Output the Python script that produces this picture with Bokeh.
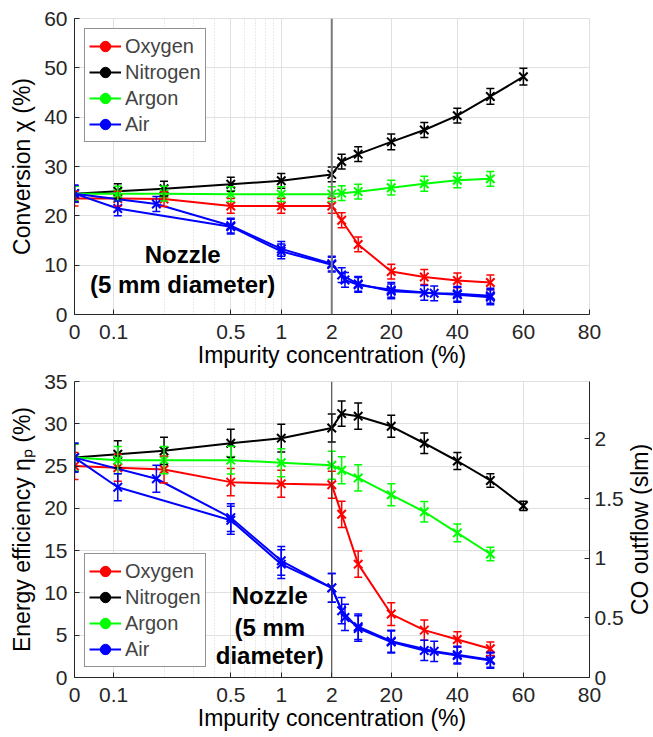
import numpy as np
from bokeh.plotting import figure
from bokeh.models import (Range1d, LinearAxis, FixedTicker, CustomJSTickFormatter,
                          NumeralTickFormatter, Whisker, TeeHead, ColumnDataSource,
                          Span, Label, Legend, LegendItem)
from bokeh.layouts import column, row
from bokeh.embed import file_html
from bokeh.resources import INLINE

# ---------------- data ----------------
x_std = [0, 0.106, 0.2, 0.5, 1, 2, 5, 10, 20, 30, 40, 50]
x_n2 = [0, 0.106, 0.2, 0.5, 1, 2, 5, 10, 20, 30, 40, 50, 60]
x_air1 = [0, 0.106, 0.5, 1, 2, 5, 10, 20, 30, 40, 50]
x_air2 = [0, 0.18, 0.5, 1, 2, 6, 10, 20, 33, 40, 50]

# Conversion (%)
conv_o2 = [23.5, 23.5, 23.4, 22.0, 22.0, 22.0, 19.1, 14.2, 8.7, 7.6, 6.9, 6.5]
conv_o2_err = [1.5, 1.5, 1.5, 1.5, 1.5, 1.5, 1.5, 1.5, 1.5, 1.5, 1.5, 1.5]
conv_n2 = [24.5, 25.0, 25.5, 26.4, 27.1, 28.4, 31.0, 32.5, 35.0, 37.4, 40.3, 44.2, 48.2]
conv_n2_err = [1.5, 1.5, 1.5, 1.4, 1.5, 1.5, 1.5, 1.5, 1.6, 1.5, 1.5, 1.6, 1.7]
conv_ar = [24.5, 24.5, 24.5, 24.4, 24.4, 24.4, 24.6, 24.9, 25.7, 26.5, 27.2, 27.5]
conv_ar_err = [1.5, 1.5, 1.5, 1.5, 1.5, 1.5, 1.5, 1.5, 1.5, 1.5, 1.5, 1.5]
conv_air1 = [24.5, 21.5, 17.8, 12.8, 10.1, 8.0, 6.2, 4.7, 4.4, 4.0, 3.5]
conv_air2 = [24.5, 22.4, 18.0, 13.3, 10.3, 7.0, 6.0, 5.0, 4.3, 4.2, 3.8]
conv_air_err = [1.7, 1.5, 1.5, 1.5, 1.5, 1.5, 1.5, 1.5, 1.5, 1.5, 1.5]

# Energy efficiency (%)
eff_o2 = [25.0, 24.8, 24.6, 23.1, 22.9, 22.8, 19.3, 13.4, 7.5, 5.6, 4.5, 3.4]
eff_o2_err = [1.6, 1.6, 1.6, 1.6, 1.6, 1.6, 1.55, 1.55, 1.35, 1.2, 0.9, 0.8]
eff_n2 = [26.0, 26.4, 26.8, 27.7, 28.3, 29.5, 31.2, 30.9, 29.7, 27.7, 25.6, 23.3, 20.3]
eff_n2_err = [1.6, 1.6, 1.6, 1.65, 1.65, 1.65, 1.5, 1.55, 1.3, 1.2, 1.0, 0.8, 0.55]
eff_ar = [26.0, 25.7, 25.7, 25.7, 25.4, 25.1, 24.5, 23.6, 21.6, 19.6, 17.1, 14.6]
eff_ar_err = [1.6, 1.6, 1.6, 1.65, 1.65, 1.65, 1.6, 1.55, 1.3, 1.2, 1.05, 0.8]
eff_air1 = [26.0, 22.5, 18.6, 13.4, 10.6, 7.9, 5.8, 4.2, 3.2, 2.6, 2.0]
eff_air2 = [26.0, 23.5, 18.9, 13.8, 10.6, 7.1, 6.0, 4.3, 3.1, 2.7, 2.1]
eff_air_err = [1.7, 1.6, 1.65, 1.7, 1.7, 1.55, 1.5, 1.3, 1.2, 1.0, 0.9]

x_tick_vals = [0, 0.1, 0.5, 1, 2, 20, 40, 60, 80]
x_tick_labels = ["0", "0.1", "0.5", "1", "2", "20", "40", "60", "80"]
x_minor_vals = [0.2, 0.3, 0.4, 0.6, 0.7, 0.8, 0.9]
co_ticks = [0, 0.5, 1, 1.5, 2]

series_names = ["Oxygen", "Nitrogen", "Argon", "Air"]
colors = ["#ff0000", "#000000", "#00ff00", "#0000ff"]

# ---------------- broken x scale ----------------
U01 = 39.0      # distance 0 -> 0.1
DEC = 167.5     # per decade between 0.1 and 2
LIN = 3.3       # per unit above 2


def xmap(x):
    x = np.atleast_1d(np.asarray(x, dtype=float))
    u = np.zeros_like(x)
    m1 = (x > 0) & (x <= 2)
    u[m1] = U01 + DEC * np.log10(x[m1] / 0.1)
    m2 = x > 2
    u[m2] = U01 + DEC * np.log10(20.0) + LIN * (x[m2] - 2)
    return u


FONT = "Liberation Sans"
AX = "#262626"
GRID = "#e0e0e0"
FW, FH = 515, 296


def base_fig(ymax, ytick_step, ylabel, top_border, right_border):
    p = figure(frame_width=FW, frame_height=FH, output_backend="svg",
               toolbar_location=None, tools="",
               x_range=Range1d(float(xmap(0)[0]), float(xmap(80)[0])),
               y_range=Range1d(0, ymax),
               min_border_left=74, min_border_right=right_border,
               min_border_top=top_border, min_border_bottom=50)
    p.background_fill_color = "white"
    p.border_fill_color = "white"
    p.outline_line_color = GRID
    p.outline_line_width = 1

    xt = list(xmap(x_tick_vals))
    xm = list(xmap(x_minor_vals))
    p.xaxis.ticker = FixedTicker(ticks=xt, minor_ticks=[])
    p.xaxis.formatter = CustomJSTickFormatter(args=dict(labels=x_tick_labels),
                                              code="return labels[index];")
    p.xgrid.ticker = FixedTicker(ticks=xt, minor_ticks=xm)
    p.xgrid.grid_line_color = GRID
    p.xgrid.minor_grid_line_color = "#d4d4d4"
    p.xgrid.minor_grid_line_dash = "1 2"
    p.ygrid.grid_line_color = GRID
    p.yaxis.ticker = FixedTicker(ticks=list(np.arange(0, ymax + 0.1, ytick_step)))

    for ax in (p.xaxis[0], p.yaxis[0]):
        ax.axis_line_color = AX
        ax.axis_line_width = 1
        ax.major_tick_line_color = AX
        ax.major_tick_in = 5
        ax.major_tick_out = 0
        ax.minor_tick_line_color = None
        ax.major_label_text_font = FONT
        ax.major_label_text_font_size = "21px"
        ax.major_label_text_color = AX
        ax.axis_label_text_font = FONT
        ax.axis_label_text_font_size = "23px"
        ax.axis_label_text_font_style = "normal"
        ax.axis_label_text_color = "#000000"
    p.xaxis.axis_label = "Impurity concentration (%)"
    p.xaxis.major_label_standoff = 10
    p.xaxis.axis_label_standoff = 0
    p.yaxis.axis_label = ylabel
    p.yaxis.major_label_standoff = 7
    p.yaxis.axis_label_standoff = 6
    return p


def add_series(p, xs, ys, errs, color, lw=2):
    u = xmap(xs)
    y = np.asarray(ys, float)
    e = np.asarray(errs, float)
    src = ColumnDataSource(dict(u=u, y=y, lo=y - e, hi=y + e))
    w = Whisker(source=src, base="u", lower="lo", upper="hi", dimension="height",
                line_color=color, line_width=1.5,
                upper_head=TeeHead(size=8, line_color=color, line_width=1.5),
                lower_head=TeeHead(size=8, line_color=color, line_width=1.5),
                level="glyph")
    p.add_layout(w)
    r = p.line("u", "y", source=src, line_color=color, line_width=lw)
    p.scatter("u", "y", source=src, marker="x", size=12,
              line_color=color, line_width=2)
    return r


def add_legend(p, line_renderers, location):
    items = []
    for name, col, r in zip(series_names, colors, line_renderers):
        d1 = p.scatter([np.nan], [np.nan], marker="dash", angle=np.pi / 2, size=17,
                       line_color=col, line_width=2)
        d2 = p.scatter([np.nan], [np.nan], marker="circle", size=6, color=col)
        items.append(LegendItem(label=name, renderers=[r, d1, d2]))
    leg = Legend(items=items, location=location, margin=10, padding=4, spacing=0,
                 glyph_width=32, glyph_height=26, label_height=26, label_standoff=4,
                 label_text_font=FONT, label_text_font_size="20px",
                 border_line_color=AX, border_line_width=1,
                 background_fill_color="white", background_fill_alpha=1.0)
    p.add_layout(leg)


# ---------------- top panel ----------------
p1 = base_fig(60, 10, "Conversion χ (%)", 18, 62)
p1.add_layout(Span(location=float(xmap(2)[0]), dimension="height",
                   line_color="#7a7a7a", line_width=2))
r_o = add_series(p1, x_std, conv_o2, conv_o2_err, colors[0])
r_n = add_series(p1, x_n2, conv_n2, conv_n2_err, colors[1])
r_a = add_series(p1, x_std, conv_ar, conv_ar_err, colors[2])
r_b = add_series(p1, x_air1, conv_air1, conv_air_err, colors[3])
add_series(p1, x_air2, conv_air2, conv_air_err, colors[3])
add_legend(p1, [r_o, r_n, r_a, r_b], "top_left")
for txt, yy in (("Nozzle", 12.2), ("(5 mm diameter)", 6.0)):
    p1.add_layout(Label(x=108, y=yy, text=txt, text_font=FONT, text_font_size="24px",
                        text_font_style="bold", text_align="center",
                        text_baseline="middle", text_color="#000000"))

# ---------------- bottom panel ----------------
p2 = base_fig(35, 5, "Energy efficiency ηₚ (%)", 11, 37)
co_max = 35 * 8.51 / 120.0
p2.extra_y_ranges = {"co": Range1d(0, co_max)}
rax = LinearAxis(y_range_name="co",
                 ticker=FixedTicker(ticks=co_ticks, minor_ticks=[]),
                 formatter=NumeralTickFormatter(format="0.[0]"))
rax.axis_line_color = AX
rax.major_tick_line_color = AX
rax.major_tick_in = 5
rax.major_tick_out = 0
rax.minor_tick_line_color = None
rax.major_label_text_font = FONT
rax.major_label_text_font_size = "21px"
rax.major_label_text_color = AX
rax.major_label_standoff = 5
p2.add_layout(rax, "right")
p2.add_layout(Span(location=float(xmap(2)[0]), dimension="height",
                   line_color="#333333", line_width=1))
r_o = add_series(p2, x_std, eff_o2, eff_o2_err, colors[0])
r_n = add_series(p2, x_n2, eff_n2, eff_n2_err, colors[1])
r_a = add_series(p2, x_std, eff_ar, eff_ar_err, colors[2])
r_b = add_series(p2, x_air1, eff_air1, eff_air_err, colors[3])
add_series(p2, x_air2, eff_air2, eff_air_err, colors[3])
add_legend(p2, [r_o, r_n, r_a, r_b], "bottom_left")
for txt, yy in (("Nozzle", 9.7), ("(5 mm", 5.9), ("diameter)", 2.6)):
    p2.add_layout(Label(x=195, y=yy, text=txt, text_font=FONT, text_font_size="24px",
                        text_font_style="bold", text_align="center",
                        text_baseline="middle", text_color="#000000"))

# narrow strip holding the right-hand axis title (reads bottom-to-top)
pr = figure(frame_width=26, frame_height=FH, output_backend="svg",
            toolbar_location=None, tools="",
            x_range=Range1d(0, 1), y_range=Range1d(0, 1),
            x_axis_location=None, y_axis_location=None,
            min_border_left=0, min_border_right=0, min_border_top=11,
            min_border_bottom=0)
pr.grid.visible = False
pr.outline_line_color = None
pr.background_fill_color = "white"
pr.border_fill_color = "white"
pr.add_layout(Label(x=0.5, y=0.5, text="CO outflow (slm)", angle=np.pi / 2,
                    text_font=FONT, text_font_size="23px", text_align="center",
                    text_baseline="middle", text_color="#000000"))

layout = column(p1, row(p2, pr, spacing=0), spacing=0)
open("out.html", "w").write(file_html(layout, INLINE))
